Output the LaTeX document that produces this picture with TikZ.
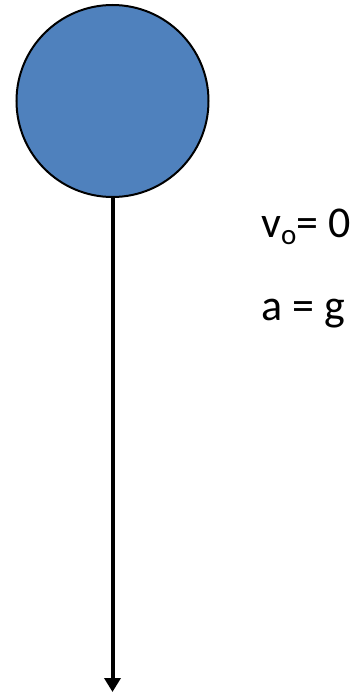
\documentclass[tikz,border=0pt]{standalone}
\usepackage{fontspec}
\setmainfont{Carlito}
\usetikzlibrary{arrows.meta}
\definecolor{ballblue}{HTML}{4F81BD}

\begin{document}
\begin{tikzpicture}[x=1pt, y=-1pt,
  ball/.style={circle, draw=black, line width=2pt, fill=ballblue,
    minimum size=192pt, inner sep=0pt},
  fall/.style={-{Triangle[length=14pt, width=16pt]}, line width=4pt},
  label/.style={anchor=base west, inner sep=0pt, font=\fontsize{44}{52}\selectfont},
]
\useasboundingbox (0,0) rectangle (360,693);

% ball
\node[ball] (ball) at (112.5,101) {};

% path of the fall
\coordinate (tip) at (112.5,692);
\draw[fall] (ball.south) -- (tip);

% start values
\node[label] (speed) at (261,237)
  {v\raisebox{-7pt}{\fontsize{29}{29}\selectfont o}= 0};
\node[label] (accel) at (261,320) {a = g};

\end{tikzpicture}
\end{document}
